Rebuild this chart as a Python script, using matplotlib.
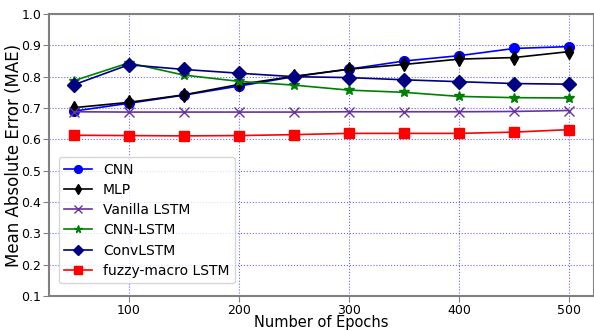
import numpy as np
import matplotlib
matplotlib.use("Agg")
import matplotlib.pyplot as plt

epochs = [50, 100, 150, 200, 250, 300, 350, 400, 450, 500]

cnn = [0.690, 0.715, 0.741, 0.770, 0.800, 0.824, 0.850, 0.867, 0.890, 0.896]
mlp = [0.701, 0.718, 0.742, 0.775, 0.801, 0.824, 0.839, 0.856, 0.861, 0.880]
vanilla_lstm = [0.688, 0.687, 0.687, 0.687, 0.687, 0.688, 0.688, 0.688, 0.689, 0.692]
cnn_lstm = [0.787, 0.844, 0.805, 0.785, 0.773, 0.757, 0.750, 0.737, 0.733, 0.732]
conv_lstm = [0.774, 0.838, 0.823, 0.811, 0.800, 0.797, 0.790, 0.784, 0.778, 0.776]
fuzzy_lstm = [0.613, 0.612, 0.611, 0.612, 0.615, 0.619, 0.619, 0.619, 0.623, 0.631]

fig = plt.figure(figsize=(5.94, 3.31), dpi=100)
ax = fig.add_axes([49/594, 35/331, 1 - 49/594, 282/331])

ax.plot(epochs, cnn, color='blue', marker='o', markersize=7, linewidth=1.2, label='CNN')
ax.plot(epochs, mlp, color='black', marker='d', markersize=7, linewidth=1.2, label='MLP')
ax.plot(epochs, vanilla_lstm, color='#6a329f', marker='x', markersize=7, linewidth=1.2, label='Vanilla LSTM')
ax.plot(epochs, cnn_lstm, color='green', marker='*', markersize=7, linewidth=1.2, label='CNN-LSTM')
ax.plot(epochs, conv_lstm, color='navy', marker='D', markersize=7, linewidth=1.2, label='ConvLSTM')
ax.plot(epochs, fuzzy_lstm, color='red', marker='s', markersize=7, linewidth=1.2, label='fuzzy-macro LSTM')

ax.set_ylim(0.1, 1.0)
ax.set_xlim(27.5, 522.5)
ax.set_xticks([100, 200, 300, 400, 500])
ax.set_yticks(np.arange(0.1, 1.01, 0.1))
ax.tick_params(labelsize=9, length=4, pad=1.5, color='grey')
ax.grid(True, color='blue', linestyle=':', linewidth=0.8, alpha=0.6)
for s in ax.spines.values():
    s.set_color('grey')
    s.set_linewidth(1.5)

ax.set_xlabel('Number of Epochs', fontsize=10.5, va='center')
ax.set_ylabel('Mean Absolute Error (MAE)', fontsize=12, va='center')
ax.xaxis.set_label_coords(0.5, -27/282)
ax.yaxis.set_label_coords(-35/545, 0.5)
ax.legend(loc='lower left', fontsize=10, handlelength=2.0, borderpad=0.4,
          labelspacing=0.45, markerscale=0.8, bbox_to_anchor=(0.005, 0.02))

fig.savefig('out.png', dpi=100)
